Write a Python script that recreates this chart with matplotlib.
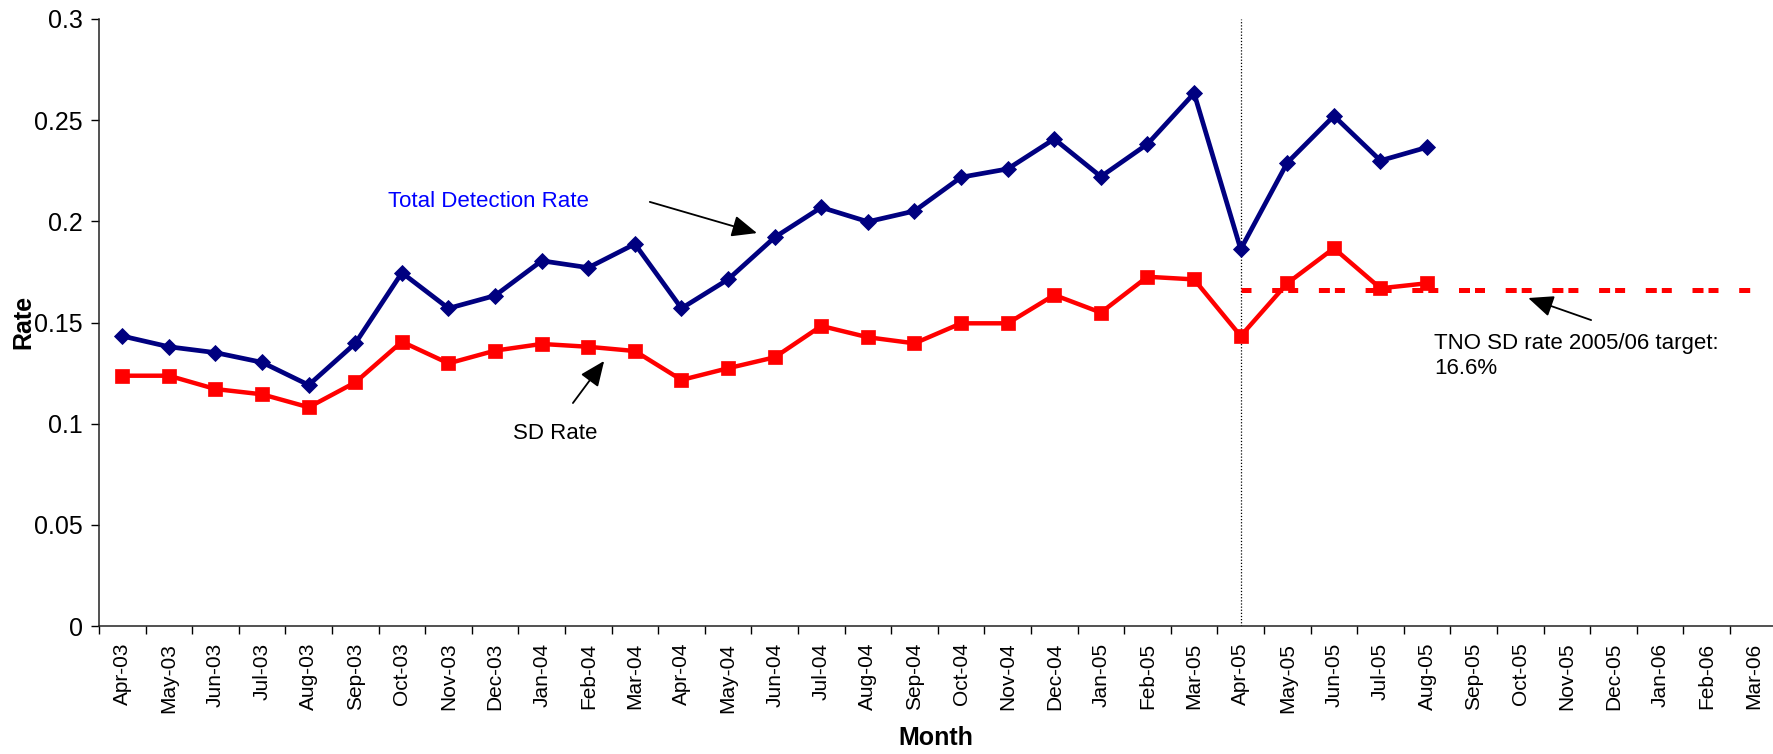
import numpy as np
import matplotlib
matplotlib.use("Agg")
import matplotlib.pyplot as plt

plt.rcParams['font.family'] = ['Liberation Sans', 'DejaVu Sans']

months = ['Apr-03', 'May-03', 'Jun-03', 'Jul-03', 'Aug-03', 'Sep-03', 'Oct-03', 'Nov-03',
          'Dec-03', 'Jan-04', 'Feb-04', 'Mar-04', 'Apr-04', 'May-04', 'Jun-04', 'Jul-04',
          'Aug-04', 'Sep-04', 'Oct-04', 'Nov-04', 'Dec-04', 'Jan-05', 'Feb-05', 'Mar-05',
          'Apr-05', 'May-05', 'Jun-05', 'Jul-05', 'Aug-05', 'Sep-05', 'Oct-05', 'Nov-05',
          'Dec-05', 'Jan-06', 'Feb-06', 'Mar-06']

# Apr-03 .. Aug-05
total_rate = [0.1433, 0.1380, 0.1351, 0.1303, 0.1191, 0.1397, 0.1746, 0.1570, 0.1633,
              0.1805, 0.1771, 0.1888, 0.1570, 0.1713, 0.1921, 0.2069, 0.1998, 0.2051,
              0.2218, 0.2259, 0.2407, 0.2221, 0.2382, 0.2633, 0.1862, 0.2290, 0.2521,
              0.2300, 0.2366]
sd_rate = [0.1237, 0.1237, 0.1171, 0.1145, 0.1081, 0.1204, 0.1405, 0.1298, 0.1361,
           0.1394, 0.1380, 0.1359, 0.1216, 0.1274, 0.1328, 0.1483, 0.1427, 0.1397,
           0.1496, 0.1496, 0.1636, 0.1549, 0.1726, 0.1713, 0.1433, 0.1694, 0.1867,
           0.1669, 0.1694]
# target for 2005/06 (Apr-05 .. Mar-06)
target_months = months[24:]
target_rate = [0.166] * len(target_months)

fig = plt.figure(figsize=(17.74, 7.54), dpi=100)
ax = fig.add_axes([99 / 1774, 128 / 754, 1677.6 / 1774, 607 / 754])

x = np.arange(len(months))
ax.plot(x[:len(total_rate)], total_rate, color='#000080', lw=3.4, marker='D', ms=8,
        mec='#000080', mew=0.6, zorder=4)
ax.plot(x[:len(sd_rate)], sd_rate, color='#FF0000', lw=3.2, marker='s', ms=10.5,
        mec='#FF0000', mew=0.5, zorder=4)
xt = x[months.index(target_months[0]):]
ax.plot(xt, target_rate, color='#FF0000', lw=3.6, ls=(3.2, (2.2, 1.0, 2.0, 4.14)),
        dash_capstyle='butt', zorder=3)

# year-end marker
ax.axvline(months.index('Apr-05'), color='black', lw=0.9, ls=(0, (1, 1.5)), zorder=2)

ax.set_xlim(-0.5, len(months) - 0.5)
ax.set_ylim(0, 0.3)
ax.set_yticks([0, 0.05, 0.1, 0.15, 0.2, 0.25, 0.3])
ax.set_yticklabels(['0', '0.05', '0.1', '0.15', '0.2', '0.25', '0.3'], fontsize=18)
ax.set_xticks(x)
ax.set_xticklabels(months, rotation=90, fontsize=15)
ax.set_xticks(np.arange(-0.5, len(months), 1), minor=True)
ax.tick_params(axis='x', which='major', length=0, pad=12)
ax.tick_params(axis='x', which='minor', length=5.5, width=1, direction='out')
ax.tick_params(axis='y', length=5.8, width=1, direction='out', pad=6)

for s in ['top', 'right']:
    ax.spines[s].set_visible(False)
for s in ['left', 'bottom']:
    ax.spines[s].set_linewidth(1.1)
    ax.spines[s].set_color('#222222')

fig.text(936 / 1774, 1 - 745 / 754, 'Month', ha='center', va='baseline',
         fontsize=18, fontweight='bold')
fig.text(23 / 1774, 1 - 322 / 754, 'Rate', ha='center', va='center', rotation=90,
         fontsize=18, fontweight='bold')

arrow = dict(arrowstyle='-|>,head_length=0.7,head_width=0.3', mutation_scale=22,
             lw=1.3, color='black', shrinkA=0, shrinkB=0)
ax.text(5.70, 0.2071, 'Total Detection Rate', color='#0000FF', fontsize=16, va='baseline')
ax.annotate('', xy=(13.62, 0.1942), xytext=(11.32, 0.2096), arrowprops=arrow)
ax.text(8.38, 0.0924, 'SD Rate', fontsize=16, va='baseline')
ax.annotate('', xy=(10.34, 0.1310), xytext=(9.67, 0.1102), arrowprops=arrow)
ax.text(28.15, 0.1448, 'TNO SD rate 2005/06 target:\n16.6%', fontsize=16, va='top',
        linespacing=1.25)
ax.annotate('', xy=(30.17, 0.1621), xytext=(31.52, 0.1512), arrowprops=arrow)

fig.savefig('out.png', dpi=100)
